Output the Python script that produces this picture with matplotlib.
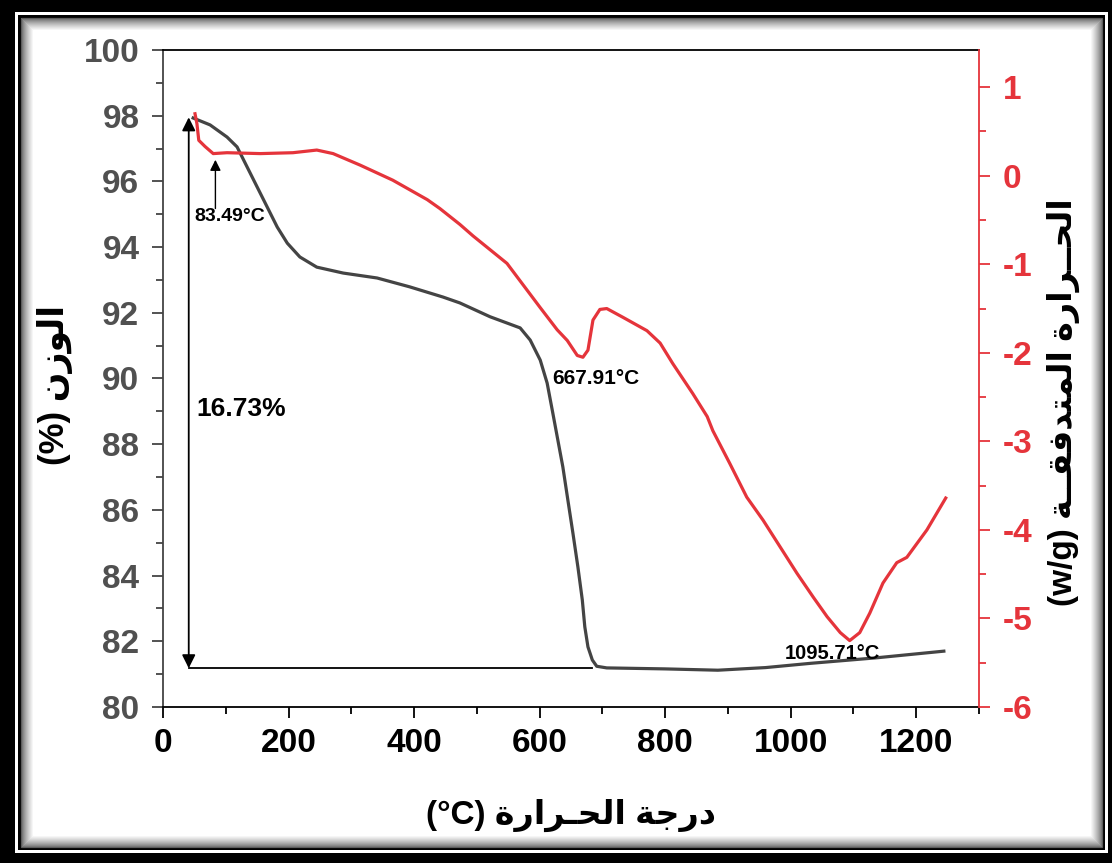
import matplotlib
matplotlib.use("Agg")

import matplotlib.pyplot as plt
from matplotlib.patches import Rectangle
from matplotlib.ticker import MultipleLocator

plt.rcParams["font.family"] = ["Liberation Sans", "DejaVu Sans"]
plt.rcParams["font.weight"] = "bold"
plt.rcParams["axes.unicode_minus"] = False

# TGA: temperature (C) vs weight (%)
tga_temp = [48, 75, 102, 118, 134, 150, 166, 182, 198, 218, 245, 287, 341, 393,
            446, 473, 521, 569, 585, 601, 612, 621, 629, 637, 645, 653, 661, 668,
            672, 677, 684, 691, 707, 800, 884, 960, 1032, 1138, 1244]
tga_weight = [97.93, 97.72, 97.35, 97.05, 96.44, 95.83, 95.22, 94.61, 94.12, 93.70,
              93.39, 93.21, 93.06, 92.79, 92.48, 92.30, 91.88, 91.54, 91.17, 90.56,
              89.86, 88.95, 88.13, 87.31, 86.30, 85.30, 84.26, 83.26, 82.44, 81.83,
              81.43, 81.24, 81.19, 81.16, 81.12, 81.2, 81.33, 81.5, 81.7]

# DSC: temperature (C) vs heat flow (w/g)
dsc_temp = [51, 54, 57, 67, 80, 102, 155, 207, 245, 271, 314, 366, 421, 441, 473,
            494, 548, 601, 628, 644, 660, 669, 677, 685, 696, 707, 733, 771, 792,
            812, 844, 867, 876, 903, 930, 956, 983, 1010, 1036, 1058, 1079, 1094,
            1110, 1126, 1147, 1169, 1185, 1217, 1247]
dsc_flow = [0.70, 0.59, 0.40, 0.33, 0.25, 0.26, 0.25, 0.26, 0.29, 0.25, 0.12, -0.05,
            -0.27, -0.37, -0.55, -0.68, -0.99, -1.49, -1.74, -1.86, -2.03, -2.05,
            -1.97, -1.63, -1.51, -1.50, -1.60, -1.75, -1.89, -2.12, -2.46, -2.72,
            -2.88, -3.25, -3.63, -3.89, -4.19, -4.49, -4.76, -4.98, -5.16, -5.25,
            -5.16, -4.94, -4.60, -4.37, -4.31, -4.00, -3.64]

x_ticks = [0, 200, 400, 600, 800, 1000, 1200]
left_ticks = [80, 82, 84, 86, 88, 90, 92, 94, 96, 98, 100]
right_ticks = [-6, -5, -4, -3, -2, -1, 0, 1]

# Arabic labels written in visual (left-to-right) order with presentation forms
w_hararah_1 = "\uFE93\uFEAD\uFE8D\uFEAE\u0640\uFEA4\uFEDF\uFE8D"
w_hararah_2 = "\uFE93\uFEAD\uFE8D\uFEAE\u0640\u0640\uFEA4\uFEDF\uFE8D"
w_darajah = "\uFE94\uFE9F\uFEAD\uFEA9"
w_wazn = "\uFEE5\uFEAF\uFEEE\uFEDF\uFE8D"
w_mutadafiqah = "\uFE94\u0640\u0640\uFED8\uFED3\uFEAA\uFE98\uFEE4\uFEDF\uFE8D"

x_label = "(°C) " + w_hararah_1 + " " + w_darajah
left_label = "(%) " + w_wazn
right_label = "(w/g) " + w_mutadafiqah + " " + w_hararah_2

RED = "#e5343b"
DARK = "#444444"

W, H = 1112, 863
fig = plt.figure(figsize=(W / 100, H / 100), dpi=100)
fig.patch.set_facecolor("black")


def px_rect(l, t, r, b, **kw):
    return Rectangle((l / W, (H - b) / H), (r - l) / W, (b - t) / H,
                     transform=fig.transFigure, zorder=-10, **kw)


# frame: black border, white gap, thin black line, shaded inner edge
fig.add_artist(px_rect(15, 12, 1108, 853, facecolor="white", edgecolor="none"))
fig.add_artist(px_rect(18, 15, 1105, 850, facecolor="black", edgecolor="none"))
fig.add_artist(px_rect(21, 18, 1102, 847, facecolor="white", edgecolor="none"))
steps = 13
for k in range(steps):
    g = 0.35 + 0.65 * (k / (steps - 1)) ** 0.7
    fig.add_artist(px_rect(21 + k, 18 + k, 1102 - k, 847 - k, facecolor="none",
                           edgecolor=(g, g, g), linewidth=0.9))

ax1 = fig.add_axes([163 / W, (H - 707) / H, 816 / W, 657 / H])
ax1.set_facecolor("white")
ax2 = ax1.twinx()

ax1.plot(tga_temp, tga_weight, color=DARK, lw=2.3, solid_joinstyle="round")
ax2.plot(dsc_temp, dsc_flow, color=RED, lw=2.3, solid_joinstyle="round")

ax1.set_xlim(0, 1300)
ax1.set_ylim(80, 100)
ax2.set_ylim(-6, 1.42)

ax1.set_xticks(x_ticks)
ax1.set_yticks(left_ticks)
ax2.set_yticks(right_ticks)
ax1.xaxis.set_minor_locator(MultipleLocator(100))
ax1.yaxis.set_minor_locator(MultipleLocator(1))
ax2.yaxis.set_minor_locator(MultipleLocator(0.5))

for sp in ax1.spines.values():
    sp.set_linewidth(1.3)
ax1.spines["left"].set_color(DARK)
ax2.spines["left"].set_visible(False)
ax2.spines["top"].set_visible(False)
ax2.spines["bottom"].set_visible(False)
ax2.spines["right"].set_color(RED)
ax2.spines["right"].set_linewidth(1.3)
ax1.spines["right"].set_visible(False)

ax1.tick_params(axis="x", which="both", direction="out", colors="black",
                labelsize=24, pad=7, width=1.3)
ax1.tick_params(axis="x", which="major", length=8)
ax1.tick_params(axis="x", which="minor", length=5)
ax1.tick_params(axis="y", which="both", direction="out", colors=DARK,
                labelsize=24, pad=9, width=1.3)
ax1.tick_params(axis="y", which="major", length=8)
ax1.tick_params(axis="y", which="minor", length=5)
ax1.tick_params(axis="y", labelcolor="#505050")
ax2.tick_params(axis="y", which="both", direction="out", colors=RED,
                labelsize=24, pad=9, width=1.3)
ax2.tick_params(axis="y", which="major", length=8)
ax2.tick_params(axis="y", which="minor", length=5)

for lab in ax1.get_xticklabels() + ax1.get_yticklabels() + ax2.get_yticklabels():
    lab.set_fontweight("bold")

# weight loss arrow and baseline
ax1.annotate("", xy=(41, 97.95), xytext=(41, 81.18),
             arrowprops=dict(arrowstyle="<|-|>", color="black", lw=1.3,
                             mutation_scale=20, shrinkA=0, shrinkB=0))
ax1.plot([41, 683], [81.18, 81.18], color="black", lw=1.3)

ax1.text(125, 89.07, "16.73%", fontsize=19, fontweight="bold", ha="center", va="center")
ax1.text(106, 94.93, "83.49°C", fontsize=14, fontweight="bold", ha="center", va="center")
ax1.text(689, 90.0, "667.91°C", fontsize=15, fontweight="bold", ha="center", va="center")
ax1.text(1067, 81.64, "1095.71°C", fontsize=14.5, fontweight="bold", ha="center", va="center")

ax2.annotate("", xy=(83.49, 0.18), xytext=(83.49, -0.37),
             arrowprops=dict(arrowstyle="-|>", color="black", lw=1.0,
                             mutation_scale=16, shrinkA=0, shrinkB=0))

fig.text(571 / W, 1 - 815 / H, x_label, fontsize=24, fontweight="bold",
         ha="center", va="center")
fig.text(55 / W, 1 - 385 / H, left_label, fontsize=25, fontweight="bold",
         ha="center", va="center", rotation=90)
fig.text(1063 / W, 1 - 402 / H, right_label, fontsize=24, fontweight="bold",
         ha="center", va="center", rotation=90)

fig.savefig("out.png", dpi=100, facecolor=fig.get_facecolor())
